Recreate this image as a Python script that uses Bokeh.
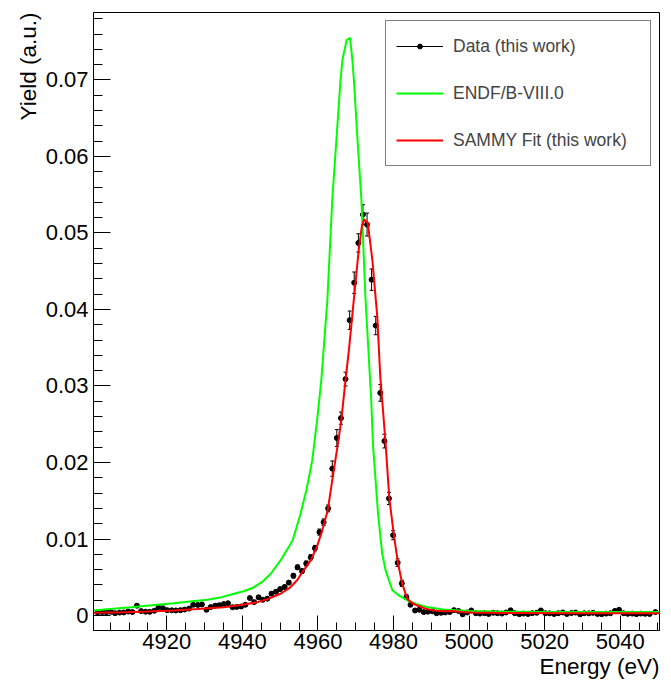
import math
import numpy as np
from bokeh.plotting import figure
from bokeh.models import (ColumnDataSource, Whisker, TeeHead, FixedTicker,
                          CustomJSTickFormatter, Legend, LegendItem, Range1d, Title)
from bokeh.embed import file_html
from bokeh.resources import INLINE

# ---------------- data ----------------
energy = [4901.7, 4902.9, 4904.0, 4905.2, 4906.3, 4907.5, 4908.6, 4909.8, 4910.9, 4912.1,
          4913.2, 4914.4, 4915.5, 4916.7, 4917.8, 4919.0, 4920.1, 4921.3, 4922.4, 4923.6,
          4924.7, 4925.9, 4927.0, 4928.2, 4929.3, 4930.5, 4931.6, 4932.8, 4933.9, 4935.1,
          4936.2, 4937.4, 4938.5, 4939.7, 4940.8, 4942.0, 4943.1, 4944.3, 4945.4, 4946.6,
          4947.7, 4948.9, 4950.0, 4951.2, 4952.3, 4953.5, 4954.6, 4955.8, 4956.9, 4958.1,
          4959.2, 4960.4, 4961.5, 4962.7, 4963.8, 4965.0, 4966.1, 4967.3, 4968.4, 4969.6,
          4970.7, 4971.9, 4973.0, 4974.2, 4975.3, 4976.5, 4977.6, 4978.8, 4979.9, 4981.1,
          4982.2, 4983.4, 4984.5, 4985.7, 4986.8, 4988.0, 4989.1, 4990.3, 4991.4, 4992.6,
          4993.7, 4994.9, 4996.0, 4997.2, 4998.3, 4999.5, 5000.6, 5001.8, 5002.9, 5004.1,
          5005.2, 5006.4, 5007.5, 5008.7, 5009.8, 5011.0, 5012.1, 5013.3, 5014.4, 5015.6,
          5016.7, 5017.9, 5019.0, 5020.2, 5021.3, 5022.5, 5023.6, 5024.8, 5025.9, 5027.1,
          5028.2, 5029.4, 5030.5, 5031.7, 5032.8, 5034.0, 5035.1, 5036.3, 5037.4, 5038.6,
          5039.7, 5040.9, 5042.0, 5043.2, 5044.3, 5045.5, 5046.6, 5047.8, 5049.3]

yield_data = [0.00040, 0.00045, 0.00042, 0.00048, 0.00030, 0.00038, 0.00040, 0.00052, 0.00045, 0.00128,
              0.00058, 0.00050, 0.00048, 0.00062, 0.00105, 0.00095, 0.00070, 0.00068, 0.00066, 0.00070,
              0.00078, 0.00090, 0.00140, 0.00138, 0.00145, 0.00075, 0.00110, 0.00128, 0.00135, 0.00150,
              0.00160, 0.00108, 0.00112, 0.00118, 0.00140, 0.00228, 0.00175, 0.00238, 0.00205, 0.00220,
              0.00285, 0.00310, 0.00345, 0.00372, 0.00430, 0.00520, 0.00630, 0.00580, 0.00680, 0.00760,
              0.00880, 0.01090, 0.01220, 0.01400, 0.01920, 0.02320, 0.02580, 0.03090, 0.03860, 0.04350,
              0.04870, 0.05240, 0.05110, 0.04390, 0.03790, 0.02910, 0.02280, 0.01530, 0.01050, 0.00690,
              0.00420, 0.00240, 0.00140, 0.00066, 0.00075, 0.00045, 0.00050, 0.00055, 0.00030, 0.00035,
              0.00040, 0.00045, 0.00070, 0.00060, 0.00015, 0.00040, 0.00066, 0.00030, 0.00025, 0.00030,
              0.00020, 0.00035, 0.00030, 0.00025, 0.00040, 0.00068, 0.00030, 0.00018, 0.00025, 0.00020,
              0.00030, 0.00035, 0.00066, 0.00030, 0.00028, 0.00020, 0.00030, 0.00040, 0.00020, 0.00032,
              0.00038, 0.00015, 0.00030, 0.00028, 0.00035, 0.00020, 0.00018, 0.00025, 0.00030, 0.00060,
              0.00075, 0.00030, 0.00022, 0.00025, 0.00018, 0.00025, 0.00022, 0.00020, 0.00045]

yield_err = [0.00011, 0.00011, 0.00011, 0.00012, 0.00011, 0.00011, 0.00011, 0.00012, 0.00012, 0.00013,
             0.00012, 0.00012, 0.00012, 0.00012, 0.00013, 0.00013, 0.00012, 0.00012, 0.00012, 0.00013,
             0.00013, 0.00013, 0.00014, 0.00014, 0.00014, 0.00013, 0.00014, 0.00014, 0.00014, 0.00015,
             0.00015, 0.00015, 0.00015, 0.00016, 0.00016, 0.00018, 0.00018, 0.00019, 0.00019, 0.00020,
             0.00022, 0.00022, 0.00024, 0.00025, 0.00027, 0.00030, 0.00030, 0.00030, 0.00032, 0.00034,
             0.00036, 0.00040, 0.00042, 0.00045, 0.00100, 0.00110, 0.00080, 0.00090, 0.00120, 0.00140,
             0.00120, 0.00130, 0.00150, 0.00140, 0.00120, 0.00110, 0.00090, 0.00080, 0.00060, 0.00050,
             0.00040, 0.00030, 0.00020, 0.00015, 0.00015, 0.00014, 0.00014, 0.00013, 0.00012, 0.00012,
             0.00012, 0.00012, 0.00012, 0.00012, 0.00011, 0.00012, 0.00012, 0.00011, 0.00011, 0.00011,
             0.00011, 0.00012, 0.00011, 0.00011, 0.00012, 0.00012, 0.00011, 0.00011, 0.00011, 0.00011,
             0.00011, 0.00012, 0.00012, 0.00011, 0.00011, 0.00011, 0.00011, 0.00012, 0.00011, 0.00011,
             0.00012, 0.00011, 0.00011, 0.00011, 0.00012, 0.00011, 0.00011, 0.00011, 0.00011, 0.00012,
             0.00012, 0.00011, 0.00011, 0.00011, 0.00011, 0.00011, 0.00011, 0.00011, 0.00012]

endf_e = [4900.6, 4905.0, 4910.5, 4916.0, 4921.9, 4926.0, 4930.8, 4934.5, 4937.8, 4940.5,
          4943.1, 4945.5, 4947.5, 4950.1, 4953.3, 4955.4, 4957.0, 4958.5, 4959.8, 4960.9,
          4962.5, 4963.8, 4965.0, 4966.0, 4966.5, 4967.6, 4968.5, 4969.1, 4969.5, 4970.5,
          4971.5, 4972.6, 4974.1, 4974.6, 4975.9, 4977.0, 4977.9, 4979.7, 4981.5, 4983.6,
          4986.0, 4988.9, 4993.0, 5000.0, 5010.0, 5025.0, 5050.4]
endf_y = [0.00066, 0.00085, 0.00109, 0.00135, 0.00161, 0.00182, 0.00205, 0.0024, 0.00284, 0.0032,
          0.0037, 0.0045, 0.00546, 0.0072, 0.0098, 0.0133, 0.0165, 0.0203, 0.0256, 0.0308,
          0.0413, 0.0544, 0.0630, 0.0701, 0.0727, 0.0752, 0.0755, 0.0727, 0.0701, 0.0620,
          0.0544, 0.0413, 0.0282, 0.0221, 0.01337, 0.0081, 0.0059, 0.0033, 0.0026, 0.0020,
          0.0015, 0.0011, 0.0008, 0.0006, 0.0005, 0.00046, 0.00045]

sammy_e = [4900.6, 4908.7, 4915.0, 4921.9, 4928.0, 4935.1, 4940.0, 4944.0, 4947.0, 4950.1,
           4952.5, 4954.5, 4955.9, 4958.1, 4959.7, 4961.2, 4962.6, 4964.2, 4965.3, 4966.2,
           4967.3, 4968.2, 4969.5, 4970.8, 4971.6, 4972.2, 4973.2, 4974.4, 4975.7, 4976.5,
           4977.0, 4977.9, 4978.9, 4980.1, 4981.2, 4982.3, 4983.6, 4985.0, 4986.3, 4988.5,
           4990.6, 4993.0, 4995.9, 4998.0, 5000.4, 5010.0, 5030.0, 5050.4]
sammy_y = [0.00035, 0.00044, 0.00052, 0.00066, 0.00085, 0.00109, 0.0014, 0.00175, 0.0022, 0.00284,
           0.0036, 0.0046, 0.00568, 0.0072, 0.00895, 0.0112, 0.01376, 0.019, 0.0225, 0.02556,
           0.0308, 0.0347, 0.0413, 0.0478, 0.0508, 0.0518, 0.0513, 0.0465, 0.0391, 0.0312,
           0.0282, 0.0225, 0.0153, 0.0105, 0.0068, 0.0042, 0.0022, 0.0016, 0.0013, 0.0009,
           0.00066, 0.00055, 0.0006, 0.00045, 0.00038, 0.00032, 0.0003, 0.0003]

x_major_ticks = [4920, 4940, 4960, 4980, 5000, 5020, 5040]
y_major_ticks = [0, 0.01, 0.02, 0.03, 0.04, 0.05, 0.06, 0.07]
x_title = "Energy (eV)"
y_title = "Yield (a.u.)"
legend_labels = ["Data (this work)", "ENDF/B-VIII.0", "SAMMY Fit (this work)"]

# ---------------- figure ----------------
FONT = "Liberation Sans"
p = figure(width=671, height=681, output_backend="svg", toolbar_location=None,
           x_range=Range1d(4900.6, 5050.4), y_range=Range1d(-0.00196, 0.07882),
           min_border_left=93, min_border_right=12, min_border_top=12, min_border_bottom=51)
p.background_fill_color = "white"
p.border_fill_color = "white"
p.outline_line_color = "black"
p.outline_line_width = 1
p.xgrid.visible = False
p.ygrid.visible = False

x_minor = [t for t in range(4905, 5051, 5)]
y_minor = [round(0.002 * k, 3) for k in range(0, 40)]
p.xaxis.ticker = FixedTicker(ticks=x_major_ticks, minor_ticks=x_minor)
p.yaxis.ticker = FixedTicker(ticks=y_major_ticks, minor_ticks=y_minor)
p.xaxis.formatter = CustomJSTickFormatter(code="return tick.toFixed(0);")
p.yaxis.formatter = CustomJSTickFormatter(code="return tick == 0 ? '0' : tick.toFixed(2);")

for ax in (p.xaxis[0], p.yaxis[0]):
    ax.axis_line_color = "black"
    ax.major_tick_line_color = "black"
    ax.minor_tick_line_color = "black"
    ax.major_tick_out = 0
    ax.minor_tick_out = 0
    ax.major_label_text_font = FONT
    ax.major_label_text_font_size = "22px"
    ax.major_label_text_color = "black"
p.xaxis.major_tick_in = 15
p.xaxis.minor_tick_in = 8
p.yaxis.major_tick_in = 17
p.yaxis.minor_tick_in = 9
p.xaxis.major_label_standoff = 3
p.yaxis.major_label_standoff = 5

# axis titles, right/top aligned like ROOT
p.add_layout(Title(text=x_title, align="right", standoff=0, offset=0,
                   text_font=FONT, text_font_size="22.5px", text_font_style="normal",
                   text_color="black"), "below")
p.add_layout(Title(text=y_title, align="right", standoff=4, offset=0,
                   text_font=FONT, text_font_size="22.5px", text_font_style="normal",
                   text_color="black"), "left")

# ---------------- glyphs ----------------
src = ColumnDataSource(dict(
    x=energy, y=yield_data,
    lo=[v - e for v, e in zip(yield_data, yield_err)],
    hi=[v + e for v, e in zip(yield_data, yield_err)],
))
whisk = Whisker(source=src, base="x", upper="hi", lower="lo",
                line_color="black", line_width=1,
                upper_head=TeeHead(size=4, line_color="black", line_width=1),
                lower_head=TeeHead(size=4, line_color="black", line_width=1))
p.add_layout(whisk)
r_pts = p.scatter("x", "y", source=src, size=5, marker="circle",
                  fill_color="black", line_color="black")
# legend-only proxy so the data entry shows a line with a dot
r_proxy = p.line(x=np.array([np.nan]), y=np.array([np.nan]), line_color="black", line_width=1)
r_endf = p.line(endf_e, endf_y, line_color="#00ff00", line_width=2)
r_sammy = p.line(sammy_e, sammy_y, line_color="#ff0000", line_width=2)

legend = Legend(items=[
    LegendItem(label=legend_labels[0], renderers=[r_proxy, r_pts]),
    LegendItem(label=legend_labels[1], renderers=[r_endf]),
    LegendItem(label=legend_labels[2], renderers=[r_sammy]),
], location="top_right")
legend.label_text_font = FONT
legend.label_text_font_size = "17.5px"
legend.glyph_width = 47
legend.glyph_height = 12
legend.label_height = 30
legend.label_width = 187
legend.label_standoff = 10
legend.padding = 10
legend.spacing = 17
legend.margin = 8
legend.border_line_color = "black"
legend.border_line_width = 1
legend.background_fill_color = "white"
legend.background_fill_alpha = 1
p.add_layout(legend)

open("out.html", "w").write(file_html(p, INLINE))
